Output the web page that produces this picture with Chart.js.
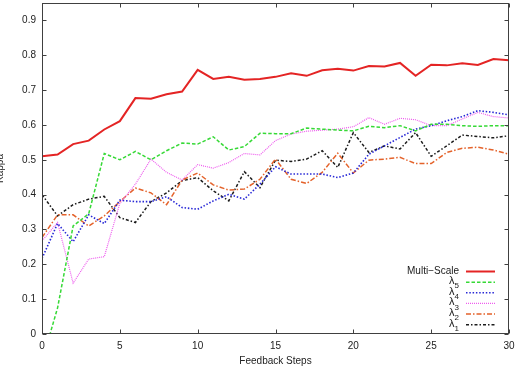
<!DOCTYPE html>
<html>
<head>
<meta charset="utf-8">
<script src="https://cdn.jsdelivr.net/npm/chart.js"></script>
<style>
html, body { margin: 0; padding: 0; background: #fff; }
</style>
</head>
<body>
<canvas id="kappaChart" width="515" height="372"></canvas>
<script>
// feedback steps 0..30
var steps = [0, 1, 2, 3, 4, 5, 6, 7, 8, 9, 10, 11, 12, 13, 14, 15, 16, 17, 18, 19, 20, 21, 22, 23, 24, 25, 26, 27, 28, 29, 30];

var multiScale = [0.51, 0.515, 0.545, 0.555, 0.587, 0.611, 0.677, 0.675, 0.688, 0.696, 0.758, 0.732, 0.738, 0.73, 0.732, 0.738, 0.748, 0.741, 0.757, 0.761, 0.756, 0.769, 0.768, 0.778, 0.741, 0.773, 0.771, 0.777, 0.772, 0.789, 0.786];
var lambda5 = [-0.08, 0.075, 0.31, 0.345, 0.518, 0.5, 0.524, 0.5, 0.526, 0.548, 0.545, 0.566, 0.528, 0.538, 0.576, 0.575, 0.575, 0.591, 0.588, 0.585, 0.583, 0.596, 0.592, 0.598, 0.583, 0.602, 0.602, 0.598, 0.596, 0.598, 0.598];
var lambda4 = [0.217, 0.317, 0.265, 0.342, 0.317, 0.384, 0.38, 0.38, 0.394, 0.363, 0.358, 0.382, 0.401, 0.387, 0.43, 0.48, 0.459, 0.459, 0.459, 0.449, 0.462, 0.516, 0.54, 0.564, 0.588, 0.598, 0.612, 0.624, 0.641, 0.636, 0.629];
var lambda3 = [0.267, 0.32, 0.146, 0.215, 0.222, 0.375, 0.43, 0.502, 0.464, 0.442, 0.486, 0.476, 0.492, 0.518, 0.514, 0.555, 0.574, 0.582, 0.585, 0.588, 0.595, 0.621, 0.602, 0.619, 0.615, 0.598, 0.598, 0.617, 0.636, 0.624, 0.62];
var lambda2 = [0.277, 0.342, 0.342, 0.31, 0.339, 0.38, 0.419, 0.405, 0.371, 0.442, 0.462, 0.428, 0.413, 0.416, 0.444, 0.502, 0.444, 0.432, 0.464, 0.519, 0.462, 0.499, 0.502, 0.507, 0.489, 0.489, 0.521, 0.533, 0.536, 0.528, 0.516];
var lambda1 = [0.40, 0.339, 0.371, 0.387, 0.395, 0.334, 0.32, 0.38, 0.405, 0.44, 0.449, 0.411, 0.382, 0.466, 0.42, 0.499, 0.495, 0.502, 0.526, 0.478, 0.578, 0.521, 0.54, 0.531, 0.578, 0.51, 0.54, 0.571, 0.567, 0.563, 0.569];

var xTicks = [0, 5, 10, 15, 20, 25, 30];
var yTicks = [0, 0.1, 0.2, 0.3, 0.4, 0.5, 0.6, 0.7, 0.8, 0.9];

var FONT = '"Liberation Sans", Arial, Helvetica, sans-serif';

function pts(vals) {
    return steps.map(function (s, i) { return { x: s, y: vals[i] }; });
}

function line(label, vals, color, width, dash) {
    return {
        label: label,
        data: pts(vals),
        borderColor: color,
        backgroundColor: color,
        borderWidth: width,
        borderDash: dash,
        pointRadius: 0,
        tension: 0,
        fill: false
    };
}

// no label overhang padding, the layout padding below decides the plot box
function fixBox(scale) {
    scale.paddingTop = 0;
    scale.paddingBottom = 0;
    scale.paddingLeft = 0;
    scale.paddingRight = 0;
}

// frame, inward ticks on all four sides, axis titles, gnuplot style key
var gnuplotLook = {
    id: 'gnuplotLook',
    afterDraw: function (chart) {
        var ctx = chart.ctx, a = chart.chartArea;
        var xs = chart.scales.x, ys = chart.scales.y;
        var L = Math.round(a.left) + 0.5, R = Math.round(a.right) - 0.5;
        var T = Math.round(a.top) + 0.5, B = Math.round(a.bottom) - 0.5;
        ctx.save();
        ctx.strokeStyle = '#404040';
        ctx.lineWidth = 1;
        ctx.setLineDash([]);
        ctx.strokeRect(L, T, R - L, B - T);
        ctx.beginPath();
        xTicks.forEach(function (v) {
            var px = Math.round(xs.getPixelForValue(v)) + 0.5;
            ctx.moveTo(px, B); ctx.lineTo(px, B - 4);
            ctx.moveTo(px, T); ctx.lineTo(px, T + 4);
        });
        yTicks.forEach(function (v) {
            var py = Math.round(ys.getPixelForValue(v)) + 0.5;
            ctx.moveTo(L, py); ctx.lineTo(L + 4, py);
            ctx.moveTo(R, py); ctx.lineTo(R - 4, py);
        });
        ctx.stroke();

        ctx.fillStyle = '#222';
        ctx.font = '10px ' + FONT;
        ctx.textAlign = 'center';
        ctx.textBaseline = 'middle';
        ctx.fillText('Feedback Steps', (a.left + a.right) / 2, 361);
        ctx.save();
        ctx.translate(3, (a.top + a.bottom) / 2);
        ctx.rotate(-Math.PI / 2);
        ctx.textBaseline = 'alphabetic';
        ctx.fillText('Kappa', 0, 0);
        ctx.restore();

        // key
        var textRight = 459, x0 = 466, x1 = 495, y = 271.5, rowH = 10.65;
        chart.data.datasets.forEach(function (ds) {
            var m = /^λ(\d)$/.exec(ds.label);
            ctx.fillStyle = '#1a1a1a';
            ctx.textAlign = 'right';
            if (m) {
                ctx.font = '8px ' + FONT;
                var subW = ctx.measureText(m[1]).width;
                ctx.fillText(m[1], textRight, y + 4);
                ctx.font = '11px ' + FONT;
                ctx.fillText('λ', textRight - subW, y - 1);
            } else {
                ctx.font = '10px ' + FONT;
                ctx.fillText(ds.label, textRight, y);
            }
            ctx.strokeStyle = ds.borderColor;
            ctx.lineWidth = ds.borderWidth;
            ctx.setLineDash(ds.borderDash || []);
            ctx.beginPath();
            ctx.moveTo(x0, y);
            ctx.lineTo(x1, y);
            ctx.stroke();
            y += rowH;
        });
        ctx.restore();
    }
};

var ctx = document.getElementById('kappaChart');
var myChart = new Chart(ctx, {
    type: 'line',
    data: {
        datasets: [
            line('Multi\u2212Scale', multiScale, '#e42424', 2, []),
            line('λ5', lambda5, '#36d936', 1.5, [3.5, 2]),
            line('λ4', lambda4, '#2828d6', 1.6, [1.5, 1.8]),
            line('λ3', lambda3, '#ee5cee', 1.2, [1, 1]),
            line('λ2', lambda2, '#e4622a', 1.5, [5, 2, 1.5, 2]),
            line('λ1', lambda1, '#1c1c1c', 1.5, [3, 2, 1.5, 2])
        ]
    },
    options: {
        responsive: false,
        animation: false,
        layout: { padding: { top: 3, right: 6, left: 0, bottom: 0 } },
        plugins: {
            legend: { display: false },
            tooltip: { enabled: false }
        },
        scales: {
            x: {
                type: 'linear',
                min: 0,
                max: 30,
                grid: { display: false, drawTicks: false },
                border: { display: false },
                ticks: { stepSize: 5, padding: 6, color: '#222', font: { family: FONT, size: 10 }, maxRotation: 0 },
                afterFit: function (scale) { scale.height = 38; fixBox(scale); }
            },
            y: {
                type: 'linear',
                min: 0,
                max: 0.95,
                grid: { display: false, drawTicks: false },
                border: { display: false },
                ticks: { stepSize: 0.1, includeBounds: false, padding: 6, color: '#222', font: { family: FONT, size: 10 } },
                afterFit: function (scale) { scale.width = 42; fixBox(scale); }
            }
        }
    },
    plugins: [gnuplotLook]
});
</script>
</body>
</html>
